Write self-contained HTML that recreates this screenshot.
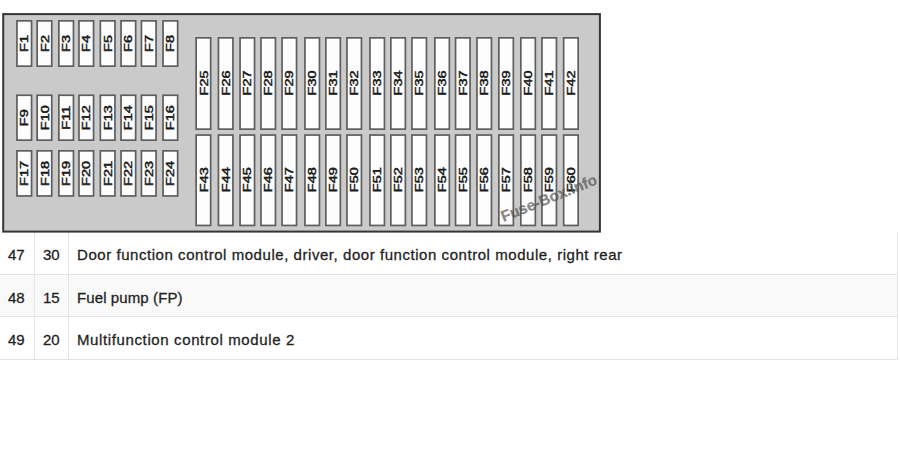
<!DOCTYPE html>
<html><head><meta charset="utf-8">
<style>
html,body{margin:0;padding:0;background:#fff;width:900px;height:453px;overflow:hidden;position:relative;}
svg{position:absolute;left:0;top:0;}
.vl{position:absolute;width:1px;background:#e6e6e6;}
.hl{position:absolute;height:1px;background:#e3e3e3;}
.tbl{position:absolute;left:0;top:232px;font-family:"Liberation Sans",sans-serif;font-size:15px;color:#1f1f1f;-webkit-text-stroke:0.3px #1f1f1f;}
.t{position:absolute;white-space:nowrap;line-height:1;}
</style></head><body>
<div style="position:absolute;left:0;top:274.5px;width:898px;height:42.5px;background:#f9f9f9"></div>
<div class="hl" style="left:0;top:274px;width:898px"></div>
<div class="hl" style="left:0;top:316px;width:898px"></div>
<div class="hl" style="left:0;top:359px;width:898px"></div>
<div class="vl" style="left:34.3px;top:232px;height:128px"></div>
<div class="vl" style="left:68px;top:232px;height:128px"></div>
<div class="vl" style="left:897px;top:232px;height:128px"></div>
<div class="tbl">
<div class="t" style="left:8px;top:15px">47</div>
<div class="t" style="left:43px;top:15px">30</div>
<div class="t" style="left:77px;top:15px;letter-spacing:0.55px">Door function control module, driver, door function control module, right rear</div>
<div class="t" style="left:8px;top:57.7px">48</div>
<div class="t" style="left:43px;top:57.7px">15</div>
<div class="t" style="left:77px;top:57.7px;letter-spacing:0.1px">Fuel pump (FP)</div>
<div class="t" style="left:8px;top:100px">49</div>
<div class="t" style="left:43px;top:100px">20</div>
<div class="t" style="left:77px;top:100px;letter-spacing:0.62px">Multifunction control module 2</div>
</div>
<svg width="900" height="453" viewBox="0 0 900 453">
<rect x="3.2" y="14.1" width="596.7" height="217.5" fill="#cacaca" stroke="#353535" stroke-width="2"/>
<g fill="#fdfdfd" stroke="#5e5e5e" stroke-width="1.7">
<rect x="16.95" y="20.85" width="14.60" height="45.30"/><rect x="37.15" y="20.85" width="14.60" height="45.30"/><rect x="58.85" y="20.85" width="14.60" height="45.30"/><rect x="78.95" y="20.85" width="14.60" height="45.30"/><rect x="100.35" y="20.85" width="14.60" height="45.30"/><rect x="121.05" y="20.85" width="14.60" height="45.30"/><rect x="141.45" y="20.85" width="14.60" height="45.30"/><rect x="163.05" y="20.85" width="14.60" height="45.30"/><rect x="16.95" y="95.25" width="14.60" height="44.90"/><rect x="37.15" y="95.25" width="14.60" height="44.90"/><rect x="58.85" y="95.25" width="14.60" height="44.90"/><rect x="78.95" y="95.25" width="14.60" height="44.90"/><rect x="100.35" y="95.25" width="14.60" height="44.90"/><rect x="121.05" y="95.25" width="14.60" height="44.90"/><rect x="141.45" y="95.25" width="14.60" height="44.90"/><rect x="163.05" y="95.25" width="14.60" height="44.90"/><rect x="16.95" y="150.85" width="14.60" height="45.10"/><rect x="37.15" y="150.85" width="14.60" height="45.10"/><rect x="58.85" y="150.85" width="14.60" height="45.10"/><rect x="78.95" y="150.85" width="14.60" height="45.10"/><rect x="100.35" y="150.85" width="14.60" height="45.10"/><rect x="121.05" y="150.85" width="14.60" height="45.10"/><rect x="141.45" y="150.85" width="14.60" height="45.10"/><rect x="163.05" y="150.85" width="14.60" height="45.10"/><rect x="196.15" y="37.85" width="14.50" height="91.30"/><rect x="218.45" y="37.85" width="14.50" height="91.30"/><rect x="240.05" y="37.85" width="14.50" height="91.30"/><rect x="260.95" y="37.85" width="14.50" height="91.30"/><rect x="282.05" y="37.85" width="14.50" height="91.30"/><rect x="304.95" y="37.85" width="14.50" height="91.30"/><rect x="325.85" y="37.85" width="14.50" height="91.30"/><rect x="346.95" y="37.85" width="14.50" height="91.30"/><rect x="369.95" y="37.85" width="14.50" height="91.30"/><rect x="390.85" y="37.85" width="14.50" height="91.30"/><rect x="411.95" y="37.85" width="14.50" height="91.30"/><rect x="434.85" y="37.85" width="14.50" height="91.30"/><rect x="455.55" y="37.85" width="14.50" height="91.30"/><rect x="476.95" y="37.85" width="14.50" height="91.30"/><rect x="498.85" y="37.85" width="14.50" height="91.30"/><rect x="520.85" y="37.85" width="14.50" height="91.30"/><rect x="541.95" y="37.85" width="14.50" height="91.30"/><rect x="563.65" y="37.85" width="14.50" height="91.30"/><rect x="196.15" y="135.05" width="14.50" height="90.40"/><rect x="218.45" y="135.05" width="14.50" height="90.40"/><rect x="240.05" y="135.05" width="14.50" height="90.40"/><rect x="260.95" y="135.05" width="14.50" height="90.40"/><rect x="282.05" y="135.05" width="14.50" height="90.40"/><rect x="304.95" y="135.05" width="14.50" height="90.40"/><rect x="325.85" y="135.05" width="14.50" height="90.40"/><rect x="346.95" y="135.05" width="14.50" height="90.40"/><rect x="369.95" y="135.05" width="14.50" height="90.40"/><rect x="390.85" y="135.05" width="14.50" height="90.40"/><rect x="411.95" y="135.05" width="14.50" height="90.40"/><rect x="434.85" y="135.05" width="14.50" height="90.40"/><rect x="455.55" y="135.05" width="14.50" height="90.40"/><rect x="476.95" y="135.05" width="14.50" height="90.40"/><rect x="498.85" y="135.05" width="14.50" height="90.40"/><rect x="520.85" y="135.05" width="14.50" height="90.40"/><rect x="541.95" y="135.05" width="14.50" height="90.40"/><rect x="563.65" y="135.05" width="14.50" height="90.40"/>
</g>
<g font-family="Liberation Sans, sans-serif" font-weight="normal" font-size="10.0" fill="#1a1a1a" stroke="#1a1a1a" stroke-width="0.45" text-anchor="middle" dominant-baseline="central">
<text transform="translate(25.15 43.50) rotate(-90) scale(1.45 1)">F1</text><text transform="translate(45.35 43.50) rotate(-90) scale(1.45 1)">F2</text><text transform="translate(67.05 43.50) rotate(-90) scale(1.45 1)">F3</text><text transform="translate(87.15 43.50) rotate(-90) scale(1.45 1)">F4</text><text transform="translate(108.55 43.50) rotate(-90) scale(1.45 1)">F5</text><text transform="translate(129.25 43.50) rotate(-90) scale(1.45 1)">F6</text><text transform="translate(149.65 43.50) rotate(-90) scale(1.45 1)">F7</text><text transform="translate(171.25 43.50) rotate(-90) scale(1.45 1)">F8</text><text transform="translate(25.15 117.70) rotate(-90) scale(1.45 1)">F9</text><text transform="translate(45.35 117.70) rotate(-90) scale(1.45 1)">F10</text><text transform="translate(67.05 117.70) rotate(-90) scale(1.45 1)">F11</text><text transform="translate(87.15 117.70) rotate(-90) scale(1.45 1)">F12</text><text transform="translate(108.55 117.70) rotate(-90) scale(1.45 1)">F13</text><text transform="translate(129.25 117.70) rotate(-90) scale(1.45 1)">F14</text><text transform="translate(149.65 117.70) rotate(-90) scale(1.45 1)">F15</text><text transform="translate(171.25 117.70) rotate(-90) scale(1.45 1)">F16</text><text transform="translate(25.15 173.40) rotate(-90) scale(1.45 1)">F17</text><text transform="translate(45.35 173.40) rotate(-90) scale(1.45 1)">F18</text><text transform="translate(67.05 173.40) rotate(-90) scale(1.45 1)">F19</text><text transform="translate(87.15 173.40) rotate(-90) scale(1.45 1)">F20</text><text transform="translate(108.55 173.40) rotate(-90) scale(1.45 1)">F21</text><text transform="translate(129.25 173.40) rotate(-90) scale(1.45 1)">F22</text><text transform="translate(149.65 173.40) rotate(-90) scale(1.45 1)">F23</text><text transform="translate(171.25 173.40) rotate(-90) scale(1.45 1)">F24</text><text transform="translate(204.30 82.90) rotate(-90) scale(1.45 1)">F25</text><text transform="translate(226.60 82.90) rotate(-90) scale(1.45 1)">F26</text><text transform="translate(248.20 82.90) rotate(-90) scale(1.45 1)">F27</text><text transform="translate(269.10 82.90) rotate(-90) scale(1.45 1)">F28</text><text transform="translate(290.20 82.90) rotate(-90) scale(1.45 1)">F29</text><text transform="translate(313.10 82.90) rotate(-90) scale(1.45 1)">F30</text><text transform="translate(334.00 82.90) rotate(-90) scale(1.45 1)">F31</text><text transform="translate(355.10 82.90) rotate(-90) scale(1.45 1)">F32</text><text transform="translate(378.10 82.90) rotate(-90) scale(1.45 1)">F33</text><text transform="translate(399.00 82.90) rotate(-90) scale(1.45 1)">F34</text><text transform="translate(420.10 82.90) rotate(-90) scale(1.45 1)">F35</text><text transform="translate(443.00 82.90) rotate(-90) scale(1.45 1)">F36</text><text transform="translate(463.70 82.90) rotate(-90) scale(1.45 1)">F37</text><text transform="translate(485.10 82.90) rotate(-90) scale(1.45 1)">F38</text><text transform="translate(507.00 82.90) rotate(-90) scale(1.45 1)">F39</text><text transform="translate(529.00 82.90) rotate(-90) scale(1.45 1)">F40</text><text transform="translate(550.10 82.90) rotate(-90) scale(1.45 1)">F41</text><text transform="translate(571.80 82.90) rotate(-90) scale(1.45 1)">F42</text><text transform="translate(204.30 179.65) rotate(-90) scale(1.45 1)">F43</text><text transform="translate(226.60 179.65) rotate(-90) scale(1.45 1)">F44</text><text transform="translate(248.20 179.65) rotate(-90) scale(1.45 1)">F45</text><text transform="translate(269.10 179.65) rotate(-90) scale(1.45 1)">F46</text><text transform="translate(290.20 179.65) rotate(-90) scale(1.45 1)">F47</text><text transform="translate(313.10 179.65) rotate(-90) scale(1.45 1)">F48</text><text transform="translate(334.00 179.65) rotate(-90) scale(1.45 1)">F49</text><text transform="translate(355.10 179.65) rotate(-90) scale(1.45 1)">F50</text><text transform="translate(378.10 179.65) rotate(-90) scale(1.45 1)">F51</text><text transform="translate(399.00 179.65) rotate(-90) scale(1.45 1)">F52</text><text transform="translate(420.10 179.65) rotate(-90) scale(1.45 1)">F53</text><text transform="translate(443.00 179.65) rotate(-90) scale(1.45 1)">F54</text><text transform="translate(463.70 179.65) rotate(-90) scale(1.45 1)">F55</text><text transform="translate(485.10 179.65) rotate(-90) scale(1.45 1)">F56</text><text transform="translate(507.00 179.65) rotate(-90) scale(1.45 1)">F57</text><text transform="translate(529.00 179.65) rotate(-90) scale(1.45 1)">F58</text><text transform="translate(550.10 179.65) rotate(-90) scale(1.45 1)">F59</text><text transform="translate(571.80 179.65) rotate(-90) scale(1.45 1)">F60</text>
</g>
<text transform="translate(503.5 222) rotate(-22)" font-family="Liberation Sans, sans-serif" font-weight="bold" font-size="15.3" fill="#555" fill-opacity="0.7" stroke="#555" stroke-opacity="0.7" stroke-width="0.3">Fuse-Box.info</text>
</svg>
</body></html>
